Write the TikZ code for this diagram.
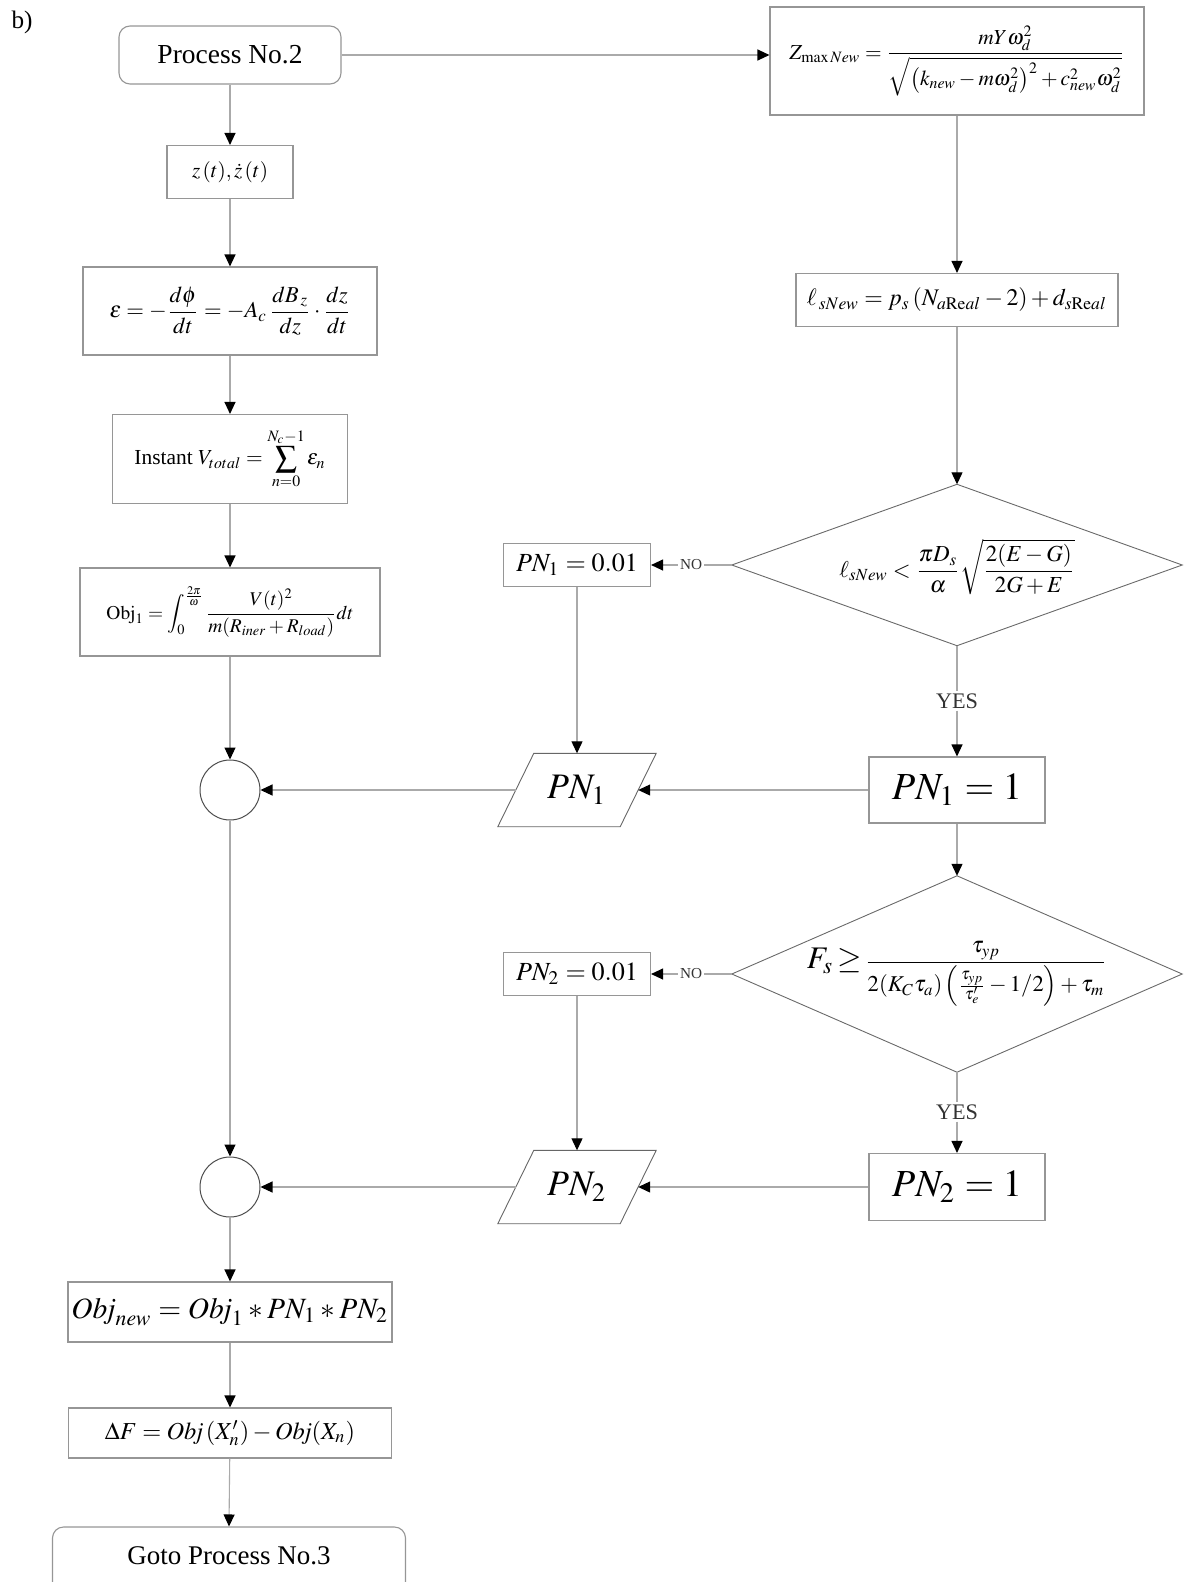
\documentclass[tikz,border=0pt]{standalone}
\usepackage{amsmath}
\usepackage{mathptmx}
\usepackage{fontspec}
\setmainfont{Liberation Serif}
\usepackage{graphicx}
\usetikzlibrary{arrows.meta,calc}
\definecolor{boxc}{RGB}{150,150,150}
\definecolor{linec}{RGB}{170,170,170}
\definecolor{diac}{RGB}{105,105,105}
\newcommand{\fitw}[2]{\resizebox{#1}{!}{#2}}
\begin{document}
\begin{tikzpicture}[x=1pt,y=-1pt,
  box/.style={draw=boxc, line width=1.1pt, inner sep=0pt, rectangle, fill=white},
  ghost/.style={inner sep=0pt, rectangle},
  roundbox/.style={box, rounded corners=11pt},
  conn/.style={draw=linec, line width=1.1pt, -{Triangle[length=12pt,width=11pt,color=black]}},
  plain/.style={draw=linec, line width=1.1pt},
  dia/.style={draw=diac, line width=0.9pt},
  lab/.style={inner sep=2pt, text=black!80}
]
\useasboundingbox (0,0) rectangle (1184,1582);

\node (lbl) at (22,22) {\fitw{21pt}{b)}};

% left column
\node[roundbox, minimum width=222pt, minimum height=58pt] (proc) at (230,55) {\fitw{145pt}{Process No.2}};
\node[box, minimum width=126pt, minimum height=53pt] (zt) at (230,172) {\fitw{76pt}{$z\left(t\right)\!,\dot z\left(t\right)$}};
\node[box, minimum width=294pt, minimum height=88pt] (eps) at (230,311) {\fitw{241pt}{$\displaystyle \varepsilon=-\frac{d\phi}{dt}=-A_c\,\frac{dB_{\,z}}{dz}\cdot\frac{dz}{dt}$}};
\node[box, minimum width=235pt, minimum height=89pt] (inst) at (230,459) {\fitw{191pt}{$\displaystyle \text{Instant }V_{total}=\sum_{n=0}^{N_c-1}\varepsilon_n$}};
\node[box, minimum width=300pt, minimum height=88pt] (obj1) at (230,612) {\fitw{247pt}{$\displaystyle \mathrm{Obj}_1=\int_0^{\frac{2\pi}{\omega}}\frac{V(t)^2}{m(R_{iner}+R_{load})}dt$}};
\node[draw=black!70, line width=1pt, circle, minimum size=60pt, inner sep=0pt] (c1) at (230,790) {};
\node[draw=black!70, line width=1pt, circle, minimum size=60pt, inner sep=0pt] (c2) at (230,1187) {};
\node[box, minimum width=324pt, minimum height=60pt] (objn) at (230,1312) {\fitw{317pt}{$\mathit{Obj}_{new}=\mathit{Obj}_1*PN_1*PN_2$}};
\node[box, minimum width=323pt, minimum height=50pt] (dF) at (230,1433) {\fitw{250pt}{$\Delta F=\mathit{Obj}\left(X_n'\right)-\mathit{Obj}(X_n)$}};
\node[roundbox, minimum width=353pt, minimum height=76pt] (goto) at (229,1565) {};
\node (gototxt) at (229,1556) {\fitw{203pt}{Goto Process No.3}};

% right column
\node[box, minimum width=374pt, minimum height=108pt] (zmax) at (957,61) {\fitw{335pt}{$\displaystyle Z_{\mathrm{max}\,New}=\frac{mY\omega_d^2}{\sqrt{\left(k_{new}-m\omega_d^2\right)^2+c_{new}^2\omega_d^2}}$}};
\node[box, minimum width=322pt, minimum height=53pt] (ell) at (957,300) {\fitw{300pt}{$\ell_{\,sNew}=p_s\left(N_{a\mathrm{Re}al}-2\right)+d_{s\mathrm{Re}al}$}};

\node[ghost, minimum width=450pt, minimum height=161pt] (d1) at (957,565) {};
\draw[dia] (d1.north) -- (d1.east) -- (d1.south) -- (d1.west) -- cycle;
\node (d1t) at (957,567) {\fitw{235pt}{$\displaystyle \ell_{sNew}<\frac{\pi D_s}{\alpha}\sqrt{\frac{2(E-G)}{2G+E}}$}};

\node[box, minimum width=147pt, minimum height=43pt] (pn1a) at (577,565) {\fitw{122pt}{$PN_1=0.01$}};
\node[box, minimum width=176pt, minimum height=66pt] (pn1b) at (957,790) {\fitw{130pt}{$PN_1=1$}};
\node[ghost, minimum width=122pt, minimum height=73pt] (par1) at (577,790) {\fitw{60pt}{$PN_1$}};
\draw[draw=black!60, line width=0.9pt] ($(par1.north west)+(18,0)$) -- ($(par1.north east)+(18,0)$) -- ($(par1.south east)+(-18,0)$) -- ($(par1.south west)+(-18,0)$) -- cycle;

\node[ghost, minimum width=450pt, minimum height=196pt] (d2) at (957,974) {};
\draw[dia] (d2.north) -- (d2.east) -- (d2.south) -- (d2.west) -- cycle;
\node (d2t) at (957,974) {\fitw{300pt}{$\displaystyle F_s\!\geq\!\scalebox{0.72}{$\displaystyle\frac{\tau_{yp}}{2(K_C\tau_a)\left(\frac{\tau_{yp}}{\tau_e'}-1/2\right)+\tau_m}$}$}};

\node[box, minimum width=147pt, minimum height=43pt] (pn2a) at (577,974) {\fitw{122pt}{$PN_2=0.01$}};
\node[box, minimum width=176pt, minimum height=67pt] (pn2b) at (957,1187) {\fitw{130pt}{$PN_2=1$}};
\node[ghost, minimum width=122pt, minimum height=73pt] (par2) at (577,1187) {\fitw{60pt}{$PN_2$}};
\draw[draw=black!60, line width=0.9pt] ($(par2.north west)+(18,0)$) -- ($(par2.north east)+(18,0)$) -- ($(par2.south east)+(-18,0)$) -- ($(par2.south west)+(-18,0)$) -- cycle;

% labels on the decision branches
\node[lab] (no1) at (691,565) {\fitw{22pt}{NO}};
\node[lab] (yes1) at (957,701) {\fitw{42pt}{YES}};
\node[lab] (no2) at (691,974) {\fitw{22pt}{NO}};
\node[lab] (yes2) at (957,1112) {\fitw{42pt}{YES}};

% connectors left
\draw[conn] (proc) -- (zt);
\draw[conn] (zt) -- (eps);
\draw[conn] (eps) -- (inst);
\draw[conn] (inst) -- (obj1);
\draw[conn] (obj1) -- (c1);
\draw[conn] (c1) -- (c2);
\draw[conn] (c2) -- (objn);
\draw[conn] (objn) -- (dF);
\draw[conn] (dF) -- (goto.north);

% connectors right
\draw[conn] (proc.east) -- (proc.east -| zmax.west);
\draw[conn] (zmax) -- (ell);
\draw[conn] (ell) -- (d1.north);
\draw[plain] (d1.west) -- (no1.east);
\draw[conn] (no1.west) -- (pn1a.east);
\draw[plain] (d1.south) -- (yes1.north);
\draw[conn] (yes1.south) -- (pn1b.north);
\draw[conn] (pn1a) -- (par1.north);
\draw[conn] (pn1b.west) -- (par1.east);
\draw[conn] (par1.west) -- (c1.east);
\draw[conn] (pn1b) -- (d2.north);
\draw[plain] (d2.west) -- (no2.east);
\draw[conn] (no2.west) -- (pn2a.east);
\draw[plain] (d2.south) -- (yes2.north);
\draw[conn] (yes2.south) -- (pn2b.north);
\draw[conn] (pn2a) -- (par2.north);
\draw[conn] (pn2b.west) -- (par2.east);
\draw[conn] (par2.west) -- (c2.east);
\end{tikzpicture}
\end{document}
